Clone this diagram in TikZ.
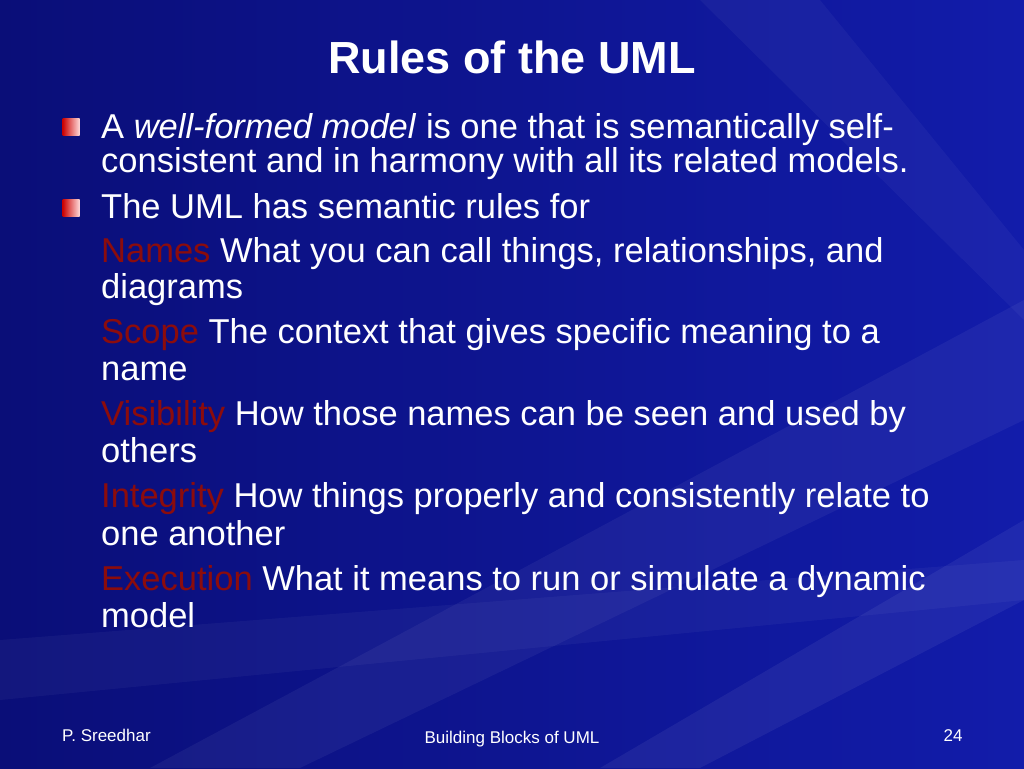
\documentclass[tikz,border=0pt]{standalone}
\usepackage{fontspec}
\setmainfont{Liberation Sans}
\definecolor{bg}{RGB}{18,28,170}
\definecolor{bgd}{RGB}{10,14,120}
\definecolor{nm}{RGB}{140,12,12}
\tikzset{
  ln/.style={anchor=base west,text=white,font=\fontsize{34.5}{40}\selectfont,inner sep=0pt},
  ft/.style={anchor=base,text=white,font=\fontsize{17}{20}\selectfont,inner sep=0pt},
  bul/.style={draw=none,left color=red!80!black,right color=red!15!white,minimum size=17pt,inner sep=0pt}
}
\begin{document}
\begin{tikzpicture}[x=1pt,y=1pt]
\useasboundingbox (0,0) rectangle (1024,-768);
\shade[left color=bgd,right color=bg] (0,0) rectangle (1024,-768);
\fill[white,opacity=0.05] (1024,-300) -- (1024,-420) -- (300,-768) -- (150,-768) -- cycle;
\fill[white,opacity=0.06] (1024,-520) -- (1024,-600) -- (700,-768) -- (600,-768) -- cycle;
\fill[white,opacity=0.04] (700,0) -- (820,0) -- (1024,-250) -- (1024,-320) -- cycle;
\fill[white,opacity=0.04] (0,-640) -- (1024,-560) -- (1024,-600) -- (0,-700) -- cycle;
\node[anchor=base,text=white,font=\bfseries\fontsize{45}{50}\selectfont,inner sep=0pt] (title) at (512,-73) {Rules of the UML};
\node[bul] (b1) at (71,-127) {};
\node[bul] (b2) at (71,-208) {};
\node[ln] (l1) at (101,-138) {A \textit{well-formed model} is one that is semantically self-};
\node[ln] (l2) at (101,-172) {consistent and in harmony with all its related models.};
\node[ln] (l3) at (101,-218) {The UML has semantic rules for};
\node[ln] (l4) at (101,-262) {\textcolor{nm}{Names} What you can call things, relationships, and};
\node[ln] (l5) at (101,-298) {diagrams};
\node[ln] (l6) at (101,-343) {\textcolor{nm}{Scope} The context that gives specific meaning to a};
\node[ln] (l7) at (101,-380) {name};
\node[ln] (l8) at (101,-425) {\textcolor{nm}{Visibility} How those names can be seen and used by};
\node[ln] (l9) at (101,-462) {others};
\node[ln] (l10) at (101,-507) {\textcolor{nm}{Integrity} How things properly and consistently relate to};
\node[ln] (l11) at (101,-545) {one another};
\node[ln] (l12) at (101,-590) {\textcolor{nm}{Execution} What it means to run or simulate a dynamic};
\node[ln] (l13) at (101,-627) {model};
\node[ft,anchor=base west] (f1) at (62,-741) {P. Sreedhar};
\node[ft] (f2) at (512,-743) {Building Blocks of UML};
\node[ft] (f3) at (953,-741) {24};
\end{tikzpicture}
\end{document}
